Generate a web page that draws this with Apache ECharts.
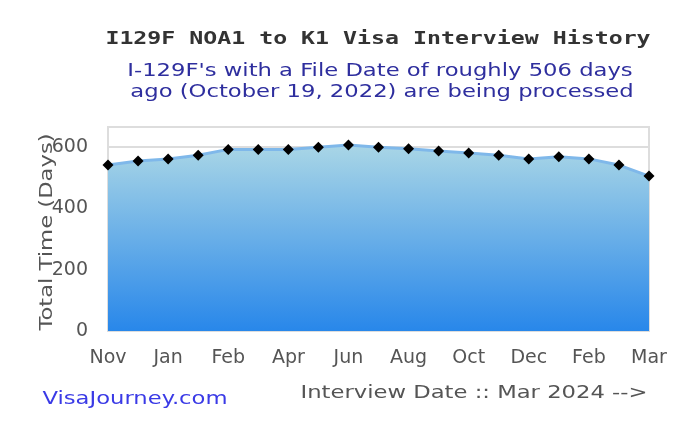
<!DOCTYPE html>
<html><head><meta charset="utf-8">
<script src="https://cdn.jsdelivr.net/npm/echarts@6/dist/echarts.min.js"></script>
<style>html,body{margin:0;padding:0;background:#fff}#c{width:692px;height:438px}</style>
</head><body><div id="c"></div>
<script>
const categories = ["Nov","Dec","Jan","Jan","Feb","Mar","Apr","May","Jun","Jul","Aug","Sep","Oct","Nov","Dec","Jan","Feb","Feb","Mar"];
const shownLabels = ["Nov","","Jan","","Feb","","Apr","","Jun","","Aug","","Oct","","Dec","","Feb","","Mar"];
const totalDays = [541,554,561,573,592,592,592,599,606,599,594,587,580,573,561,568,561,541,505];
const yTicks = [0,200,400,600];
const titleText = "I129F NOA1 to K1 Visa Interview History";
const subtitleLines = ["I-129F's with a File Date of roughly 506 days", "ago (October 19, 2022) are being processed"];
const xAxisName = "Interview Date :: Mar 2024 -->";
const yAxisName = "Total Time (Days)";
const brand = "VisaJourney.com";

const SX = 1.26;
function txt(text, x, y, opt){
  return Object.assign({type:'text', x:x, y:y, scaleX:SX, scaleY:1, silent:true,
    style:Object.assign({text:text, fontFamily:'DejaVu Sans', fontSize:18, fill:'#555',
      textAlign:'center', textVerticalAlign:'middle'}, opt.style||{})}, opt.el||{});
}

const chart = echarts.init(document.getElementById('c'));
chart.setOption({
  animation:false,
  graphic:[
    txt(titleText, 378, 39, {style:{fontFamily:'DejaVu Sans Mono', fontWeight:'bold', fill:'#333'}, el:{scaleX:1.29}}),
    txt(subtitleLines[0], 380, 71, {style:{fill:'#2e2e9e'}}),
    txt(subtitleLines[1], 382, 92, {style:{fill:'#2e2e9e'}}),
    txt(brand, 135, 399, {style:{fill:'#3a3ae6'}}),
    txt(xAxisName, 474, 393, {}),
    txt(yAxisName, 47, 232, {el:{rotation:Math.PI/2}})
  ],
  grid:{left:108, right:43, top:127, bottom:107, show:true, borderColor:'#ddd', borderWidth:2},
  xAxis:{type:'category', data:categories, boundaryGap:false,
    axisLine:{show:false}, axisTick:{show:false},
    axisLabel:{interval:0, formatter:(v,i)=>shownLabels[i], fontFamily:'DejaVu Sans', fontSize:19, color:'#555', margin:18}
  },
  yAxis:{type:'value', min:0, max:665, interval:200,
    axisLine:{show:false}, axisTick:{show:false},
    axisLabel:{fontFamily:'DejaVu Sans', fontSize:19, color:'#555', margin:20,
      formatter:v=>yTicks.indexOf(v)>=0?String(v):''},
    splitLine:{lineStyle:{color:'#ddd', width:2}}
  },
  series:[{type:'line', data:totalDays, symbol:'diamond', symbolSize:11,
    itemStyle:{color:'#000'},
    lineStyle:{color:'#7fb8ea', width:3},
    areaStyle:{opacity:1, color:new echarts.graphic.LinearGradient(0,0,0,1,[
      {offset:0,color:'#a9d6e6'},{offset:1,color:'#2887ea'}])},
    clip:false, z:3
  }]
});
</script></body></html>
